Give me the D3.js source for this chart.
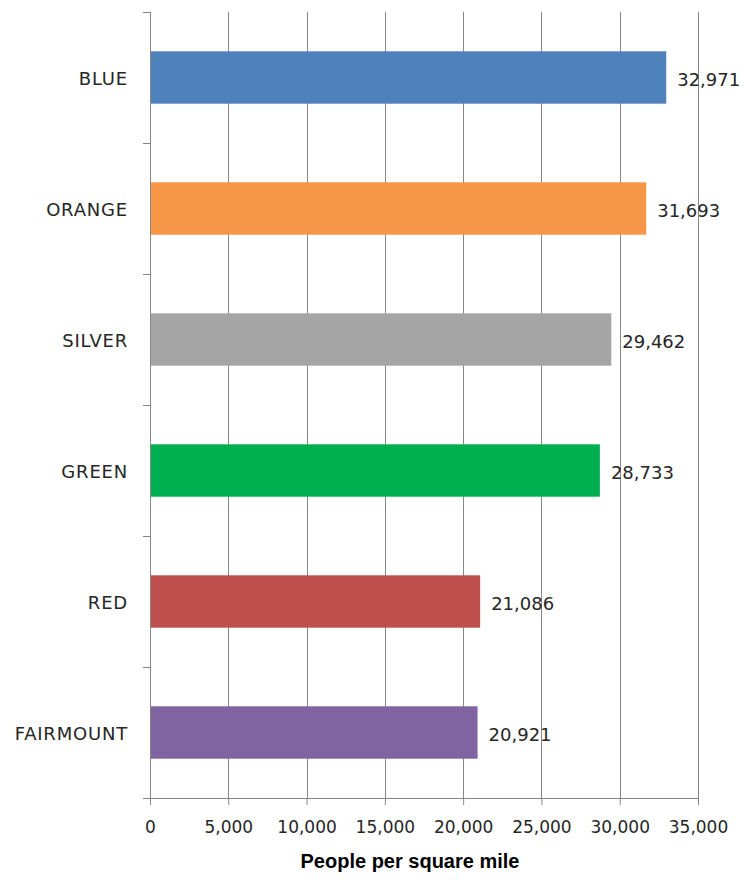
<!DOCTYPE html>
<html>
<head>
<meta charset="utf-8">
<script src="https://cdn.jsdelivr.net/npm/d3@7"></script>
<style>
  html, body { margin: 0; padding: 0; background: #fff; }
  svg text { font-family: "DejaVu Sans", sans-serif; }
</style>
</head>
<body>
<div id="chart"></div>
<script>
// Population density along each transit line
var lines = ["BLUE", "ORANGE", "SILVER", "GREEN", "RED", "FAIRMOUNT"];
var density = [32971, 31693, 29462, 28733, 21086, 20921];
var barColors = ["#4f81bd", "#f79646", "#a5a5a5", "#00b050", "#c0504d", "#8064a2"];
var xTicks = [0, 5000, 10000, 15000, 20000, 25000, 30000, 35000];
var xTitle = "People per square mile";

var W = 747, H = 880;
var margin = { top: 12, right: 49, bottom: 82, left: 150 };
var width = W - margin.left - margin.right;
var height = H - margin.top - margin.bottom;

var svg = d3.select("#chart").append("svg")
    .attr("width", W)
    .attr("height", H);

var g = svg.append("g")
    .attr("transform", "translate(" + margin.left + "," + margin.top + ")");

var x = d3.scaleLinear().domain([0, 35000]).range([0, width]);
var y = d3.scaleBand().domain(lines).range([0, height]).paddingInner(0.6).paddingOuter(0.3);

// vertical gridlines
g.selectAll("line.grid")
    .data(xTicks.slice(1))
    .enter().append("line")
    .attr("class", "grid")
    .attr("x1", function (d) { return Math.round(x(d)) + 0.5; })
    .attr("x2", function (d) { return Math.round(x(d)) + 0.5; })
    .attr("y1", 0).attr("y2", height)
    .attr("stroke", "#878787").attr("stroke-width", 1);

// bars
g.selectAll("rect.bar")
    .data(density)
    .enter().append("rect")
    .attr("class", "bar")
    .attr("x", 0)
    .attr("y", function (d, i) { return y(lines[i]); })
    .attr("width", function (d) { return x(d); })
    .attr("height", y.bandwidth())
    .attr("fill", function (d, i) { return barColors[i]; });

// value labels
g.selectAll("text.val")
    .data(density)
    .enter().append("text")
    .attr("class", "val")
    .attr("x", function (d) { return x(d) + 11; })
    .attr("y", function (d, i) { return y(lines[i]) + y.bandwidth() / 2 + 8; })
    .attr("font-size", "18px")
    .attr("fill", "#262626")
    .text(function (d) { return d3.format(",")(d); });

// y axis: line + ticks between categories
var step = height / lines.length;
g.append("line")
    .attr("x1", 0.5).attr("x2", 0.5)
    .attr("y1", 0).attr("y2", height)
    .attr("stroke", "#878787");
d3.range(lines.length).forEach(function (i) {
    g.append("line")
        .attr("x1", -7).attr("x2", 0)
        .attr("y1", Math.round(i * step) + 0.5).attr("y2", Math.round(i * step) + 0.5)
        .attr("stroke", "#878787");
});
g.selectAll("text.cat")
    .data(lines)
    .enter().append("text")
    .attr("class", "cat")
    .attr("x", -22)
    .attr("y", function (d) { return y(d) + y.bandwidth() / 2 + 7; })
    .attr("text-anchor", "end")
    .attr("font-size", "18px")
    .attr("letter-spacing", "0.8px")
    .attr("fill", "#262626")
    .text(function (d) { return d; });

// x axis
var xAxis = g.append("g")
    .attr("transform", "translate(0," + height + ")")
    .call(d3.axisBottom(x).tickValues(xTicks).tickSize(7).tickFormat(d3.format(",")));
xAxis.select(".domain").attr("stroke", "#878787").attr("d", "M-7,0.5H" + width);
xAxis.selectAll(".tick line").attr("stroke", "#878787");
xAxis.selectAll(".tick text")
    .attr("font-family", "DejaVu Sans, sans-serif")
    .attr("font-size", "17px")
    .attr("fill", "#262626")
    .attr("dy", "1.45em");

// axis title
svg.append("text")
    .attr("x", 410)
    .attr("y", 868)
    .attr("text-anchor", "middle")
    .style("font-family", "'Liberation Sans', Arial, sans-serif")
    .attr("font-weight", "bold")
    .attr("font-size", "20px")
    .attr("fill", "#000")
    .text(xTitle);
</script>
</body>
</html>
